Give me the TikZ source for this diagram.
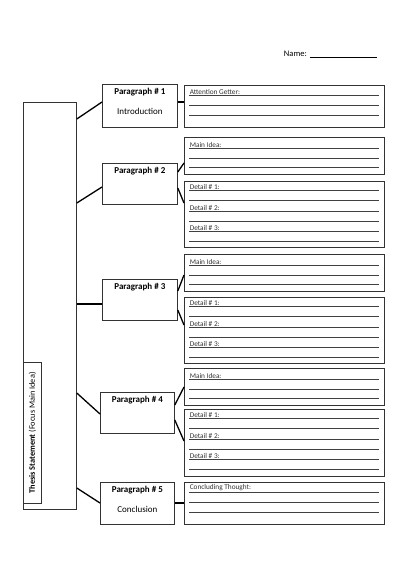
\documentclass[tikz,border=0pt]{standalone}
\usepackage{fontspec}
\setmainfont{Carlito}
\usepackage{tikz}
\usetikzlibrary{positioning}

\tikzset{
  box/.style={draw=black!80, line width=0.8pt, rectangle, inner sep=0pt, anchor=north west},
  link/.style={line width=1.3pt, black},
  rule/.style={line width=0.6pt, black!75},
  lbl/.style={font=\fontsize{7.3}{8}\selectfont, anchor=south west, inner sep=0.6pt, text=black!80},
  ptitle/.style={font=\bfseries\fontsize{9}{10}\selectfont, inner sep=1pt},
  psub/.style={font=\fontsize{9}{10}\selectfont, inner sep=1pt},
}

\begin{document}
\begin{tikzpicture}[x=1pt, y=-1pt]
    \useasboundingbox[fill=white] (0,0) rectangle (400,565);

    % Name line
    \node[font=\fontsize{8.5}{10}\selectfont, anchor=base east, inner sep=1pt] (name) at (308,56) {Name:};
    \coordinate (nameend) at (377,57);
    \draw[line width=0.8pt] ([xshift=2pt, yshift=-1pt]name.base east) -- (nameend);

    % Thesis column
    \node[box, minimum width=53pt, minimum height=407pt] (thesis) at (23,102) {};
    \node[box, minimum width=18pt, minimum height=141pt] (thesisin) at (23,362) {};
    \node[rotate=90, font=\fontsize{8.3}{9}\selectfont, inner sep=0pt] (thesist) at (thesisin.center)
        {\textbf{Thesis Statement} (Focus Main Idea)};

    % Paragraph boxes
    \node[box, minimum width=75pt, minimum height=43pt] (par1) at (102,84) {};
    \node[box, minimum width=75pt, minimum height=41pt] (par2) at (102,163) {};
    \node[box, minimum width=75pt, minimum height=41pt] (par3) at (102,279) {};
    \node[box, minimum width=74pt, minimum height=41pt] (par4) at (100,392) {};
    \node[box, minimum width=74pt, minimum height=42pt] (par5) at (100,482) {};
    \foreach \p/\t in {par1/1, par2/2, par3/3, par4/4, par5/5}
        \node[ptitle, below=3pt of \p.north] (\p t) {Paragraph \# \t};
    \node[psub, below=10pt of par1t] (intro) {Introduction};
    \node[psub, below=10pt of par5t] (concl) {Conclusion};

    % Boxes on the right
    \node[box, minimum width=200pt, minimum height=42pt] (attn) at (184,85) {};
    \node[box, minimum width=200pt, minimum height=37pt] (main2) at (184,137) {};
    \node[box, minimum width=200pt, minimum height=66pt] (det2) at (184,181) {};
    \node[box, minimum width=200pt, minimum height=37pt] (main3) at (184,254) {};
    \node[box, minimum width=200pt, minimum height=66pt] (det3) at (184,297) {};
    \node[box, minimum width=200pt, minimum height=37pt] (main4) at (184,368) {};
    \node[box, minimum width=200pt, minimum height=67pt] (det4) at (184,409) {};
    \node[box, minimum width=200pt, minimum height=42pt] (thought) at (184,482) {};

    % Writing lines
    \foreach \n in {attn, thought}
        \foreach \d in {10,20,30}
            \draw[rule] ([xshift=5pt, yshift=-\d pt]\n.north west) -- ([xshift=-6pt, yshift=-\d pt]\n.north east);
    \foreach \n in {main2, main3, main4}
        \foreach \d in {11,21,30}
            \draw[rule] ([xshift=5pt, yshift=-\d pt]\n.north west) -- ([xshift=-6pt, yshift=-\d pt]\n.north east);
    \foreach \n in {det2, det3, det4}
        \foreach \d in {9,19,30,40,50,60}
            \draw[rule] ([xshift=5pt, yshift=-\d pt]\n.north west) -- ([xshift=-6pt, yshift=-\d pt]\n.north east);

    % Labels
    \node[lbl] (attnl) at ([xshift=5pt, yshift=-10pt]attn.north west) {Attention Getter:};
    \node[lbl] (thoughtl) at ([xshift=5pt, yshift=-10pt]thought.north west) {Concluding Thought:};
    \foreach \n in {main2, main3, main4}
        \node[lbl] (\n l) at ([xshift=5pt, yshift=-11pt]\n.north west) {Main Idea:};
    \foreach \n in {det2, det3, det4}
        \foreach \k/\d in {1/9, 2/30, 3/50}
            \node[lbl] (\n l\k) at ([xshift=5pt, yshift=-\d pt]\n.north west) {Detail \# \k:};

    % Connectors
    \foreach \a/\da/\b/\db in {thesis/17/par1/18, thesis/101/par2/24, thesis/202/par3/25,
                               thesis/291/par4/22, thesis/386/par5/21,
                               par1/18/attn/17, par2/9/main2/26, par2/25/det2/22,
                               par3/12/main3/21, par3/31/det3/28, par4/13/main4/19,
                               par4/28/det4/32, par5/21/thought/21}
        \draw[link] ([yshift=-\da pt]\a.north east) -- ([yshift=-\db pt]\b.north west);
\end{tikzpicture}
\end{document}
